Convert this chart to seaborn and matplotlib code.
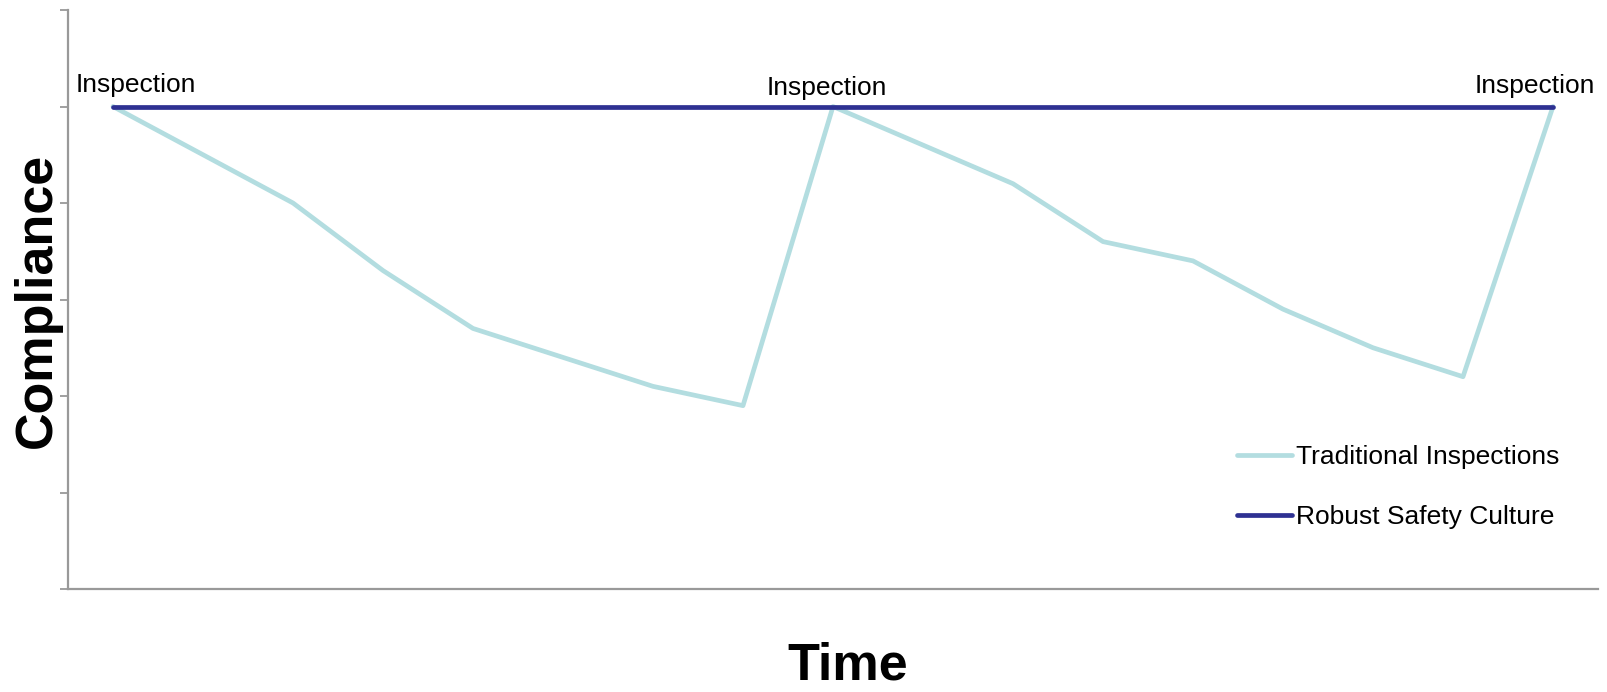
import matplotlib
matplotlib.use("Agg")
import matplotlib.pyplot as plt
import seaborn as sns
import pandas as pd

# --- Data ---
time_points = [0, 2, 3, 4, 6, 7, 8, 10, 11, 12, 13, 14, 15, 16]
traditional = [100, 80, 66, 54, 42, 38, 100, 84, 72, 68, 58, 50, 44, 100]
robust = [100] * len(time_points)
series_names = ["Traditional Inspections", "Robust Safety Culture"]
inspection_times = [0.25, 7.93, 15.8]
inspection_levels = [103.0, 102.4, 102.8]

colors = ["#b3dde0", "#2e3192"]

df = pd.concat([
    pd.DataFrame({"Time": time_points, "Compliance": traditional, "Series": series_names[0]}),
    pd.DataFrame({"Time": time_points, "Compliance": robust, "Series": series_names[1]}),
])

sns.set_style("white")
plt.rcParams["font.family"] = ["Liberation Sans", "DejaVu Sans"]
plt.rcParams["text.color"] = "black"

fig = plt.figure(figsize=(16.08, 6.92), dpi=100)
ax = fig.add_axes([68 / 1608, 1 - 589 / 692, 1530 / 1608, 579 / 692])

sns.lineplot(data=df, x="Time", y="Compliance", hue="Series", palette=colors,
             linewidth=3.4, ax=ax, solid_capstyle="round", legend=True)

for xt, yt in zip(inspection_times, inspection_levels):
    ax.text(xt, yt, "Inspection", ha="center", va="baseline", fontsize=19, color="black")

ax.set_xlim(-0.5, 16.5)
ax.set_ylim(0, 120)
ax.set_yticks(range(0, 121, 20))
ax.set_yticklabels([])
ax.set_xticks([])
ax.tick_params(axis="y", direction="out", length=6, width=1.3, color="#999999", left=True)
sns.despine(ax=ax)
for side in ["left", "bottom"]:
    ax.spines[side].set_color("#999999")
    ax.spines[side].set_linewidth(1.6)
ax.set_xlabel("")
ax.set_ylabel("")

fig.text(0.527, 0.002, "Time", ha="center", va="bottom", fontsize=37.5,
         fontweight="bold", color="black")
fig.text(0.023, 0.566, "Compliance", ha="center", va="center", rotation=90,
         fontsize=37.5, fontweight="bold", color="black")

leg = ax.legend(loc="upper left", bbox_to_anchor=(0.764, 0.248), frameon=False,
                fontsize=19, handlelength=2.1, handletextpad=0.15, labelspacing=1.35,
                borderpad=0, borderaxespad=0)
for text in leg.get_texts():
    text.set_color("black")
for line in leg.get_lines():
    line.set_linewidth(3.4)
    line.set_solid_capstyle("round")

fig.savefig("out.png", dpi=100)
